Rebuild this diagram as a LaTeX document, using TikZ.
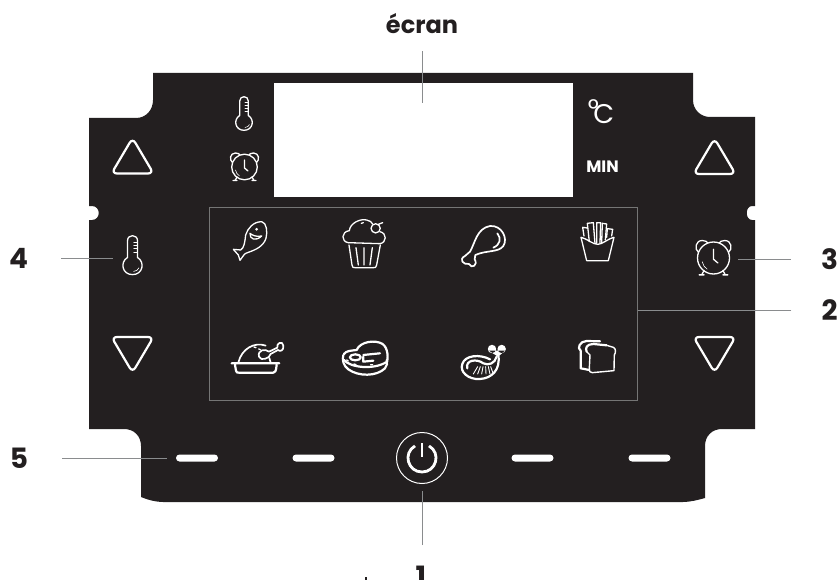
\documentclass[tikz,border=0pt]{standalone}
\usepackage{fontspec}
\setmainfont{Poppins}
\usetikzlibrary{shapes.misc}
\definecolor{panelblack}{HTML}{231F20}
\definecolor{leadergray}{HTML}{8A8C8E}
\definecolor{framegray}{HTML}{757575}
\tikzset{
  callout/.style={font=\fontsize{28}{28}\selectfont\bfseries, text=panelblack, inner sep=0pt},
  leader/.style={leadergray, line width=1pt},
  ledbar/.style={rounded rectangle, fill=white, minimum width=42pt, minimum height=7pt, inner sep=0pt},
  icon/.style={white, line width=1.3pt, line join=round, line cap=round},
  heavy/.style={icon, line width=2.2pt},
  arrowkey/.pic={
    \draw[white, line width=2.2pt, rounded corners=5.5pt] (0,-20) -- (21,15.5) -- (-21,15.5) -- cycle;
  },
  thermo/.pic={
    \draw[icon] (-4.3,-6.5) -- (-4.3,-21) .. controls (-4.3,-26.7) and (4.3,-26.7) .. (4.3,-21)
      -- (4.3,-6.5) .. controls (11,-2.5) and (9,8.3) .. (0,8.3) .. controls (-9,8.3) and (-11,-2.5) .. (-4.3,-6.5) -- cycle;
    \foreach \t in {-20,-17,-14,-11} \draw[icon, line width=.6pt] (1,\t) -- (4,\t);
    \draw[icon, line width=.6pt] (1,5.5) .. controls (3,5.5) and (5,4) .. (5.5,2.5);
  },
  alarm/.pic={
    \draw[icon] (0,0) circle (12.8);
    \draw[icon] (-12,-4.5) .. controls (-15.5,-7) and (-14.5,-14) .. (-9,-14) .. controls (-6.5,-14) and (-5,-13) .. (-4.5,-12);
    \draw[icon] (12,-4.5) .. controls (15.5,-7) and (14.5,-14) .. (9,-14) .. controls (6.5,-14) and (5,-13) .. (4.5,-12);
    \draw[icon] (-7.5,10) -- (-9.5,13.5) (-11.5,13.5) -- (-7.5,13.5);
    \draw[icon] (7.5,10) -- (9.5,13.5) (11.5,13.5) -- (7.5,13.5);
    \draw[icon] (0,-7) -- (0,1) -- (3.5,4);
    \draw[icon, line width=.6pt] (-9,3) .. controls (-8.5,5.5) and (-7,8) .. (-5,9);
  }
}
\begin{document}
\begin{tikzpicture}[x=1pt,y=-1pt]
  \useasboundingbox (0,0) rectangle (840,580);
  % panel
  \fill[panelblack] (153,73) -- (693,73) -- (693,100) .. controls (693,110) and (701,117) .. (710,117) -- (755,117)
    -- (755,206) -- (752,206) .. controls (745,206) and (745,220) .. (752,220) -- (755,220)
    -- (755,429) -- (722,429) .. controls (712,429) and (705,436) .. (705,446) -- (705,498) .. controls (698,500) and (690,502) .. (683,502)
    -- (163,502) .. controls (156,502) and (148,500) .. (141,497) -- (141,446) .. controls (141,436) and (134,429) .. (124,429)
    -- (89,429) -- (89,220) -- (92,220) .. controls (101,220) and (101,206) .. (92,206) -- (89,206)
    -- (89,118) -- (136,118) .. controls (146,118) and (153,110) .. (153,100) -- cycle;
  \node[fill=white, minimum width=299pt, minimum height=114pt, inner sep=0pt] (screen) at (423.5,140) {};
  \node[draw=framegray, line width=1pt, minimum width=428pt, minimum height=193pt, inner sep=0pt] (foodframe) at (423,303.5) {};
  % keys
  \pic at (132.5,158) {arrowkey};
  \pic at (714.5,158.5) {arrowkey};
  \pic[yscale=-1] at (132.5,352.5) {arrowkey};
  \pic[yscale=-1] at (714.5,352.5) {arrowkey};
  \pic at (244,122) {thermo};
  \pic at (244.5,167) {alarm};
  \pic[scale=1.16] at (132.5,265) {thermo};
  \pic[scale=1.25] at (713.5,258) {alarm};
  \node[text=white, inner sep=0pt, font=\fontsize{27}{27}\selectfont] (celsius) at (601,112) {\raisebox{5pt}{°}\kern-5.5pt C};
  \node[text=white, inner sep=0pt, font=\fontsize{16.5}{17}\selectfont\bfseries] (minunit) at (602.5,166.5) {MIN};
  % leds and power
  \foreach \x/\n in {197/a,313.5/b,532.5/c,649.5/d}
    \node[ledbar] (led\n) at (\x,458) {};
  \node[circle, draw=white, line width=1pt, minimum size=51pt, inner sep=0pt] (power) at (422,458) {};
  \draw[white, line width=2.8pt] (415,445.9) .. controls (402.6,453.1) and (407.7,472) .. (422,472)
    .. controls (436.3,472) and (441.4,453.1) .. (429,445.9);
  \draw[white, line width=2.8pt] (422,443) -- (422,457);
  % fish and cupcake, turkey and steak
  \begin{scope}[shift={(200,200)},x=.3333pt,y=-.3333pt]
    \draw[icon] (185,65) .. controls (200,68) and (203,95) .. (198,115) .. controls (190,140) and (165,150) .. (145,157)
      .. controls (135,160) and (130,165) .. (128,170) -- (120,181) -- (115,165) -- (100,148) -- (122,150)
      .. controls (132,145) and (135,125) .. (137,105) .. controls (143,85) and (160,65) .. (185,65);
    \draw[icon] (150,100) .. controls (148,118) and (168,125) .. (185,108) .. controls (170,112) and (155,105) .. (150,100);
    \fill[white] (170,88) circle (1.5pt);
    \draw[icon] (445,128) .. controls (423,125) and (423,95) .. (448,92) .. controls (450,70) and (480,55) .. (500,60)
      .. controls (510,62) and (515,66) .. (518,72);
    \draw[icon] (527,85) circle (4.6pt);
    \draw[icon] (533,74) -- (548,68);
    \draw[icon] (540,95) .. controls (562,100) and (560,128) .. (540,131) -- (445,128);
    \draw[icon] (447,135) -- (456,195) .. controls (457,203) and (460,203) .. (465,203) -- (520,203)
      .. controls (526,203) and (529,203) .. (530,195) -- (541,135);
    \draw[icon] (468,143) -- (475,195) (492,143) -- (492,195) (517,143) -- (510,195);
    \draw[icon] (484,70) -- (490,68);
    \draw[heavy] (95,490) -- (238,490) (105,495) -- (108,512) .. controls (109,518) and (112,518) .. (116,518)
      -- (220,518) .. controls (225,518) and (228,515) .. (230,495);
    \draw[icon, line width=1.7pt] (115,488) .. controls (125,445) and (165,425) .. (197,437);
    \draw[icon, line width=1.7pt] (212,488) .. controls (212,482) and (210,478) .. (208,474);
    \draw[icon, line width=1.7pt] (177,470) .. controls (172,450) and (195,445) .. (207,455) -- (232,443)
      .. controls (228,430) and (248,420) .. (250,437) .. controls (252,452) and (240,456) .. (234,450) -- (212,462)
      .. controls (210,475) and (182,485) .. (177,470);
    \draw[icon] (162,441) -- (168,443) (176,447) -- (181,449);
    \draw[heavy] (432,462) .. controls (438,452) and (455,452) .. (470,450) .. controls (480,425) and (525,418) .. (548,432)
      .. controls (565,445) and (565,475) .. (560,490);
    \draw[heavy] (430,465) .. controls (426,480) and (430,497) .. (445,508) .. controls (475,530) and (530,530) .. (555,505)
      .. controls (562,497) and (562,490) .. (560,480);
    \draw[heavy] (432,480) .. controls (450,503) and (520,510) .. (558,487);
    \draw[heavy] (466,472) ellipse (5.5pt and 3pt);
    \draw[heavy] (490,465) -- (540,460);
    \draw[heavy] (490,470) -- (490,485) -- (520,482);
    \draw[icon] (440,480) -- (445,483) (462,492) -- (468,494) (512,494) -- (518,494);
  \end{scope}
  % drumstick and fries, shrimp and bread
  \begin{scope}[shift={(430,200)},x=.3333pt,y=-.3333pt]
    \draw[icon, line width=1.7pt] (120,155) .. controls (135,130) and (140,85) .. (180,78) .. controls (215,75) and (235,115) .. (220,138)
      .. controls (205,158) and (170,150) .. (136,165) -- (134,178) .. controls (145,195) and (125,208) .. (117,192)
      .. controls (100,195) and (85,178) .. (105,168) -- (120,155);
    \draw[icon, line width=1.7pt] (202,100) .. controls (215,115) and (210,135) .. (190,143);
    \draw[icon] (453,112) -- (470,182) -- (535,182) -- (552,112) .. controls (530,118) and (518,133) .. (503,133)
      .. controls (488,133) and (475,118) .. (453,112);
    \draw[icon] (462,108) -- (458,82) -- (472,84);
    \draw[icon] (478,125) -- (472,70) -- (490,68) -- (495,130);
    \draw[icon] (500,130) -- (500,68) -- (512,68) -- (510,130);
    \draw[icon] (515,130) -- (517,70) -- (530,72) -- (526,120);
    \draw[icon] (530,112) -- (532,86) -- (548,88) -- (545,108);
    \fill[white] (186,447) circle (4.2pt) (215,447) circle (4.2pt) (176,452) -- (226,452) -- (204,470) -- cycle;
    \draw[heavy] (205,465) .. controls (212,510) and (185,535) .. (150,537) .. controls (115,540) and (88,515) .. (97,492)
      .. controls (105,465) and (150,462) .. (180,478);
    \draw[heavy] (112,505) .. controls (105,480) and (140,475) .. (160,490) .. controls (175,498) and (195,490) .. (200,470);
    \foreach \a/\b in {130/143,143/151,155/159,168/167,180/175,190/182}
      \draw[icon, line width=.9pt] (\a,522) -- (\b,500);
    \draw[heavy] (510,424) -- (470,423) .. controls (450,423) and (440,445) .. (452,452) -- (452,505) -- (478,510);
    \draw[heavy] (470,455) .. controls (465,445) and (470,432) .. (490,432) -- (530,436);
    \draw[icon, line width=1.4pt] (530,436) -- (550,442) .. controls (558,445) and (558,458) .. (553,465) -- (552,512) -- (487,518)
      .. controls (480,518) and (478,515) .. (478,505) -- (480,465) -- (470,455);
  \end{scope}
  % callouts
  \node[callout, font=\fontsize{24}{24}\selectfont\bfseries] (lblscreen) at (422,24) {écran};
  \node[callout] (lbl1) at (421,576) {1};
  \node[callout] (lbl2) at (829.5,310) {2};
  \node[callout] (lbl3) at (829.5,259) {3};
  \node[callout] (lbl4) at (18.5,258) {4};
  \node[callout] (lbl5) at (19,458) {5};
  \coordinate (screenend) at (422,103);
  \coordinate (clockend) at (738,259);
  \coordinate (tempend) at (113,258);
  \coordinate (powerend) at (422,491);
  \draw[leader, shorten <=17pt] (lblscreen) -- (screenend);
  \draw[leader, shorten <=31pt] (powerend |- lbl1) -- (powerend);
  \draw[leader, shorten <=30pt] (lbl2) -- (foodframe.east |- lbl2);
  \draw[leader, shorten <=30pt] (lbl3) -- (clockend);
  \draw[leader, shorten <=33pt] (lbl4) -- (tempend);
  \draw[leader, shorten <=34pt, shorten >=9pt] (lbl5) -- (leda);
  \fill[panelblack] (365,577) rectangle (367,580);
\end{tikzpicture}
\end{document}
